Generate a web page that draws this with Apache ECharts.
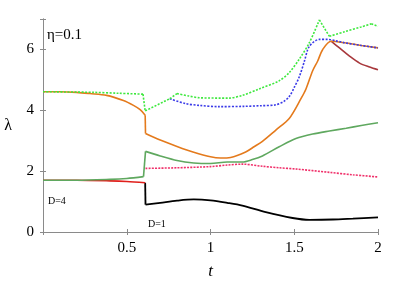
<!DOCTYPE html>
<html>
<head>
<meta charset="utf-8">
<script src="https://cdn.jsdelivr.net/npm/echarts@6/dist/echarts.min.js"></script>
<style>html,body{margin:0;padding:0;background:#fff}#c{width:407px;height:285px}</style>
</head>
<body>
<div id="c"></div>
<script>
// Tick labels
const xTicks = [0.5, 1, 1.5, 2];
const yTicks = [0, 2, 4, 6];

// Series data: [t, lambda]
const blackT = [0.61, 0.612, 0.7, 0.8, 0.9, 1.0, 1.1, 1.19, 1.33, 1.49, 1.59, 1.73, 1.85, 2.0];
const blackV = [1.62, 0.90, 0.96, 1.03, 1.07, 1.04, 0.96, 0.87, 0.65, 0.46, 0.40, 0.41, 0.44, 0.48];

const redT = [0, 0.2, 0.4, 0.5, 0.61];
const redV = [1.70, 1.70, 1.68, 1.66, 1.62];

const greenT = [0, 0.2, 0.4, 0.5, 0.6, 0.612, 0.7, 0.8, 0.9, 1.0, 1.1, 1.19, 1.25, 1.31, 1.41, 1.51, 1.61, 1.71, 1.81, 1.9, 2.0];
const greenV = [1.70, 1.70, 1.73, 1.76, 1.82, 2.65, 2.50, 2.35, 2.27, 2.25, 2.30, 2.30, 2.38, 2.50, 2.80, 3.07, 3.22, 3.32, 3.41, 3.50, 3.59];

const pinkT = [0.612, 0.8, 1.0, 1.1, 1.19, 1.31, 1.41, 1.51, 1.71, 1.85, 2.0];
const pinkV = [2.09, 2.11, 2.15, 2.20, 2.23, 2.16, 2.11, 2.07, 1.96, 1.88, 1.81];

const orangeT = [0, 0.1, 0.2, 0.28, 0.38, 0.48, 0.54, 0.58, 0.61, 0.612, 0.7, 0.8, 0.9, 1.0, 1.06, 1.12, 1.21, 1.26, 1.31, 1.39, 1.47, 1.54, 1.57, 1.61, 1.64, 1.67, 1.72, 1.8, 1.9, 2.0];
const orangeV = [4.61, 4.61, 4.59, 4.55, 4.49, 4.32, 4.16, 4.02, 3.84, 3.24, 3.02, 2.81, 2.62, 2.47, 2.43, 2.45, 2.63, 2.80, 2.98, 3.35, 3.73, 4.38, 4.70, 5.30, 5.62, 6.00, 6.27, 6.22, 6.13, 6.05];

const darkRedT = [1.72, 1.77, 1.83, 1.89, 1.95, 2.0];
const darkRedV = [6.27, 6.05, 5.78, 5.55, 5.42, 5.33];

const blueT = [0.757, 0.85, 0.935, 1.05, 1.2, 1.3, 1.39, 1.44, 1.47, 1.5, 1.53, 1.56, 1.59, 1.65, 1.7, 1.75, 1.8, 1.9, 2.0];
const blueV = [4.38, 4.22, 4.16, 4.12, 4.13, 4.15, 4.18, 4.30, 4.45, 4.75, 5.10, 5.60, 6.10, 6.33, 6.33, 6.28, 6.22, 6.13, 6.05];

const lgreenT = [0, 0.3, 0.45, 0.597, 0.61, 0.757, 0.8, 0.87, 0.935, 1.11, 1.19, 1.29, 1.41, 1.47, 1.53, 1.59, 1.65, 1.71, 1.8, 1.9, 1.96, 2.0];
const lgreenV = [4.61, 4.59, 4.56, 4.53, 3.98, 4.38, 4.55, 4.47, 4.41, 4.40, 4.49, 4.70, 4.97, 5.24, 5.68, 6.22, 6.97, 6.43, 6.58, 6.74, 6.84, 6.76];

// indices where a curve has a sharp corner / jump
const blackCorners = [1];
const greenCorners = [4, 5];
const orangeCorners = [8, 9];
const lgreenCorners = [3, 4, 5, 6, 16, 17, 20];

const zip = (t, v) => t.map((x, i) => [x, v[i]]);
function pieces(t, v, corners) {
  const pts = zip(t, v);
  const cuts = [0, ...corners.filter(c => c > 0 && c < pts.length - 1), pts.length - 1];
  const out = [];
  for (let k = 0; k < cuts.length - 1; k++) out.push(pts.slice(cuts[k], cuts[k + 1] + 1));
  return out;
}

const chart = echarts.init(document.getElementById('c'), null, {renderer: 'canvas'});
const axisCol = '#8a8a8a';
const serif = '"Liberation Serif", "Times New Roman", serif';
const series = [];
function addLine(t, v, corners, color, type, width, z) {
  pieces(t, v, corners).forEach(seg => series.push({
    type: 'line', data: seg, showSymbol: false, symbol: 'none', smooth: seg.length > 2 ? 0.3 : false,
    lineStyle: {color, width: width || 1.6, type: type || 'solid'}, z: z || 2,
    animation: false, xAxisIndex: 0, yAxisIndex: 0
  }));
}
addLine(blackT, blackV, blackCorners, '#000000', 'solid', 1.8, 3);
addLine(redT, redV, [], '#e0201c', 'solid', 1.6, 3);
addLine(greenT, greenV, greenCorners, '#5fa85f', 'solid', 1.6, 3);
addLine(pinkT, pinkV, [], '#f0306a', [2, 1.2], 1.6, 4);
addLine(darkRedT, darkRedV, [], '#a8383c', 'solid', 1.6, 4);
addLine(orangeT, orangeV, orangeCorners, '#e47a1c', 'solid', 1.6, 4);
addLine(blueT, blueV, [], '#3a3ae8', [2, 1.5], 1.6, 5);
addLine(lgreenT, lgreenV, lgreenCorners, '#3ee83e', [2, 1.5], 1.6, 6);

chart.setOption({
  animation: false,
  grid: {left: 43, right: 29, top: 19, bottom: 50, show: false},
  xAxis: [{
    type: 'value', min: 0, max: 2, interval: 0.5,
    axisLine: {show: true, lineStyle: {color: axisCol, width: 1}},
    axisTick: {show: true, inside: true, length: 3, lineStyle: {color: axisCol}},
    splitLine: {show: false},
    axisLabel: {color: '#000', fontFamily: serif, fontSize: 15, margin: 9,
      formatter: v => xTicks.includes(v) ? String(v) : ''},
    name: 't', nameLocation: 'middle', nameGap: 31,
    nameTextStyle: {fontFamily: serif, fontStyle: 'italic', fontSize: 17, color: '#000'}
  }, {
    type: 'value', min: 0, max: 2, interval: 0.5, position: 'top',
    axisLine: {show: true, lineStyle: {color: axisCol, width: 1}},
    axisTick: {show: true, inside: true, length: 3, lineStyle: {color: axisCol}},
    axisLabel: {show: false}, splitLine: {show: false}
  }],
  yAxis: [{
    type: 'value', min: 0, max: 7, interval: 2,
    axisLine: {show: true, lineStyle: {color: axisCol, width: 1}},
    axisTick: {show: true, inside: true, length: 3, lineStyle: {color: axisCol}},
    splitLine: {show: false},
    axisLabel: {color: '#000', fontFamily: serif, fontSize: 15, margin: 9,
      formatter: v => yTicks.includes(v) ? String(v) : ''},
    name: 'λ', nameLocation: 'middle', nameGap: 31, nameRotate: 0,
    nameTextStyle: {fontFamily: serif, fontSize: 16, color: '#000'}
  }, {
    type: 'value', min: 0, max: 7, interval: 2, position: 'right',
    axisLine: {show: true, lineStyle: {color: axisCol, width: 1}},
    axisTick: {show: true, inside: true, length: 3, lineStyle: {color: axisCol}},
    axisLabel: {show: false}, splitLine: {show: false}
  }],
  graphic: [
    {type: 'text', left: 47, top: 28, style: {text: 'η=0.1', font: '15px "Liberation Serif", serif', fill: '#000'}},
    {type: 'text', left: 48, top: 196, style: {text: 'D=4', font: '10px "Liberation Serif", serif', fill: '#000'}},
    {type: 'text', left: 148, top: 219, style: {text: 'D=1', font: '10px "Liberation Serif", serif', fill: '#000'}}
  ],
  series
});
</script>
</body>
</html>
